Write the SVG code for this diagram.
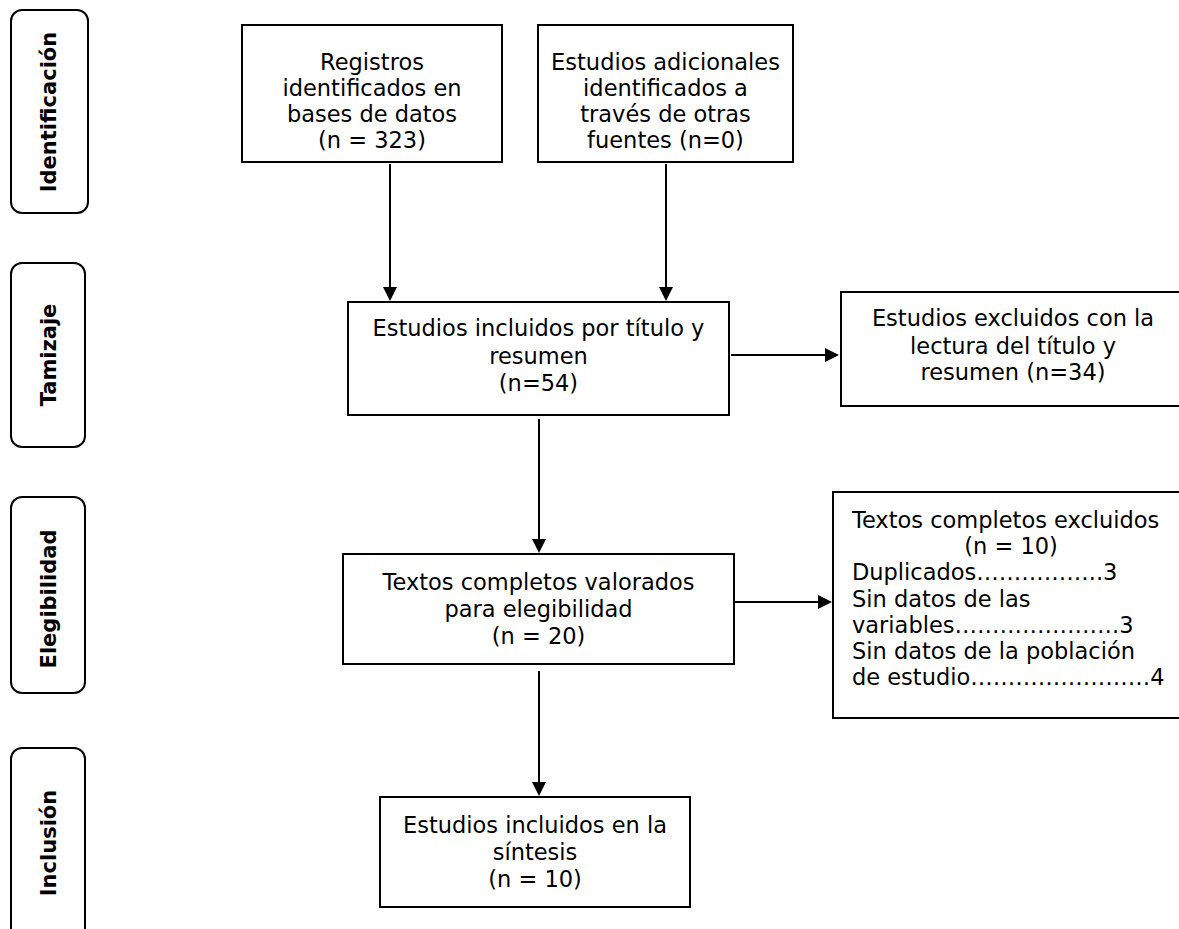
<svg xmlns="http://www.w3.org/2000/svg" width="1179" height="929" viewBox="0 0 1179 929">
<style>
.box{fill:#fff;stroke:#000;stroke-width:2}
.side{fill:#fff;stroke:#000;stroke-width:2}
.t{font-family:"DejaVu Sans",Verdana,sans-serif;font-size:22.5px;fill:#000;text-anchor:middle}
.l{font-family:"DejaVu Sans",Verdana,sans-serif;font-size:22.5px;fill:#000}
.s{font-family:"DejaVu Sans",Verdana,sans-serif;font-size:21px;font-weight:bold;fill:#000;text-anchor:middle}
.c{stroke:#000;stroke-width:2;fill:none;marker-end:url(#ah)}
</style>
<defs>
<marker id="ah" markerWidth="7" markerHeight="7" refX="6" refY="3.5" orient="auto" markerUnits="strokeWidth">
<path d="M0,0 L7,3.5 L0,7 Z" fill="#000"/>
</marker>
</defs>
<rect width="1179" height="929" fill="#fff"/>
<g id="stage-identificacion">
<rect class="side" x="11" y="10" width="77" height="203" rx="11"/>
<text class="s" transform="translate(56,112) rotate(-90)">Identificación</text>
</g>
<g id="stage-tamizaje">
<rect class="side" x="11" y="263" width="74" height="184" rx="11"/>
<text class="s" transform="translate(56,355) rotate(-90)">Tamizaje</text>
</g>
<g id="stage-elegibilidad">
<rect class="side" x="11" y="497" width="74" height="196" rx="11"/>
<text class="s" transform="translate(56,599) rotate(-90)">Elegibilidad</text>
</g>
<g id="stage-inclusion">
<rect class="side" x="11" y="748" width="74" height="200" rx="11"/>
<text class="s" transform="translate(56,843) rotate(-90)">Inclusión</text>
</g>
<g id="registros">
<rect class="box" x="242" y="25" width="260" height="137"/>
<text class="t" x="372" y="70">Registros</text>
<text class="t" x="372" y="96">identificados en</text>
<text class="t" x="372" y="122">bases de datos</text>
<text class="t" x="372" y="148">(n = 323)</text>
</g>
<g id="adicionales">
<rect class="box" x="538" y="25" width="255" height="137"/>
<text class="t" x="665.5" y="70">Estudios adicionales</text>
<text class="t" x="665.5" y="96">identificados a</text>
<text class="t" x="665.5" y="122">través de otras</text>
<text class="t" x="665.5" y="148">fuentes (n=0)</text>
</g>
<g id="tamizaje-incluidos">
<rect class="box" x="348" y="302" width="381" height="113"/>
<text class="t" x="538.5" y="336">Estudios incluidos por título y</text>
<text class="t" x="538.5" y="364">resumen</text>
<text class="t" x="538.5" y="391">(n=54)</text>
</g>
<g id="tamizaje-excluidos">
<rect class="box" x="841" y="292" width="360" height="114"/>
<text class="t" x="1013" y="326">Estudios excluidos con la</text>
<text class="t" x="1013" y="354">lectura del título y</text>
<text class="t" x="1013" y="380">resumen (n=34)</text>
</g>
<g id="textos-valorados">
<rect class="box" x="343" y="554" width="391" height="110"/>
<text class="t" x="538.5" y="590">Textos completos valorados</text>
<text class="t" x="538.5" y="617">para elegibilidad</text>
<text class="t" x="538.5" y="644">(n = 20)</text>
</g>
<g id="textos-excluidos">
<rect class="box" x="833" y="492" width="370" height="226"/>
<text class="l" x="852" y="528">Textos completos excluidos</text>
<text class="t" x="1011" y="554">(n = 10)</text>
<text class="l" x="852" y="580">Duplicados……………..3</text>
<text class="l" x="852" y="607">Sin datos de las</text>
<text class="l" x="852" y="633">variables………………….3</text>
<text class="l" x="852" y="659">Sin datos de la población</text>
<text class="l" x="852" y="685">de estudio……………………4</text>
</g>
<g id="incluidos-sintesis">
<rect class="box" x="380" y="797" width="310" height="110"/>
<text class="t" x="535" y="833">Estudios incluidos en la</text>
<text class="t" x="535" y="860">síntesis</text>
<text class="t" x="535" y="887">(n = 10)</text>
</g>
<g id="connectors">
<line class="c" x1="390" y1="164" x2="390" y2="299"/>
<line class="c" x1="666" y1="164" x2="666" y2="299"/>
<line class="c" x1="731" y1="355" x2="837" y2="355"/>
<line class="c" x1="539" y1="419" x2="539" y2="551"/>
<line class="c" x1="735" y1="602" x2="830" y2="602"/>
<line class="c" x1="539" y1="671" x2="539" y2="794"/>
</g>
</svg>
